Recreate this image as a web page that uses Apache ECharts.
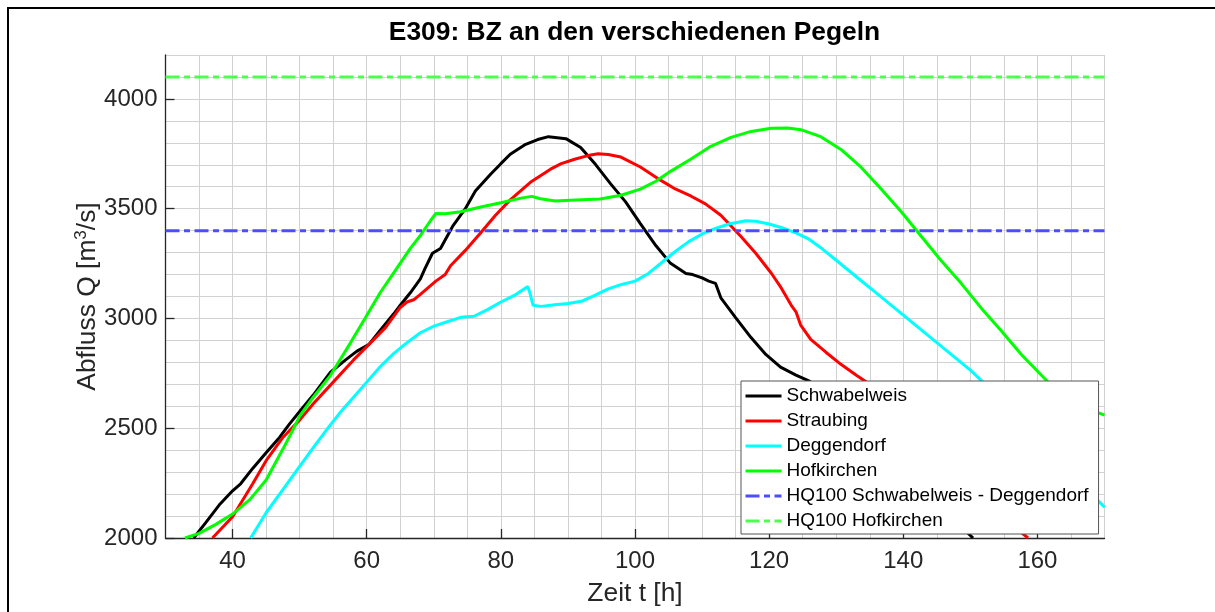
<!DOCTYPE html>
<html><head><meta charset="utf-8">
<script src="https://cdn.jsdelivr.net/npm/echarts@6/dist/echarts.min.js"></script>
<style>html,body{margin:0;padding:0;background:#fff}#c{width:1215px;height:612px}</style>
</head><body><div id="c"></div>
<script>
// ---- data ----
const tSchwabelweis = [34.2,36,38,40,41.2,43,45,47,48.5,50,52,54.6,56.8,58.5,60.3,62,64,65,66.5,68,68.7,69.8,71,72.8,74.7,76.2,78.5,80,81.4,83.7,85.5,87.1,89.7,91.9,94.1,96.4,98.6,100.8,103.1,105.3,107.6,108.6,110,111,112,112.8,115,117.3,119.5,121.7,124,126,130,135,140,145,149,150.4];
const qSchwabelweis = [2000,2070,2150,2215,2247,2317,2388,2458,2520,2576,2650,2755,2810,2850,2881,2945,3020,3060,3117,3180,3228,3297,3319,3419,3500,3580,3658,3705,3748,3793,3815,3828,3819,3779,3702,3612,3531,3432,3332,3251,3205,3200,3185,3170,3160,3094,3004,2913,2836,2778,2742,2715,2600,2450,2310,2170,2040,2000];

const tStraubing = [37.0,40,43,45,47.5,50,52,55,58,60.3,62.8,65,66,67,68,70.3,71.7,72.5,74.7,77,79.2,81.4,84.4,87.4,89,91,93.4,94.5,96,97.9,100.8,103.8,106,108.3,110.5,112.8,115.8,118,120.3,121.8,123.3,124,124.7,126.2,128.5,130.7,133,136,140,145,150,155,156.8,158.6];
const qStraubing = [2000,2097,2247,2352,2458,2537,2610,2710,2810,2881,2958,3050,3075,3085,3110,3170,3200,3240,3310,3390,3470,3540,3620,3680,3705,3725,3745,3750,3747,3735,3690,3630,3590,3558,3522,3470,3373,3297,3207,3139,3060,3030,2970,2905,2845,2791,2741,2680,2596,2430,2265,2100,2045,2000];

const tDeggendorf = [42.7,45,47.5,50,52,54.2,56,58,60,62,64,66,68,70,72,74,76,78,80,82,84,84.3,84.8,86,88,90,92,94,96,98,100,102,104,106,108,110,112,114,116.5,118,120,122,124,126,128,130,132,134,136,138,140,142,144,146,148,150,155,160,165,170];
const qDeggendorf = [2000,2115,2220,2326,2410,2500,2570,2640,2710,2780,2840,2890,2935,2965,2985,3005,3010,3040,3075,3105,3145,3120,3060,3055,3062,3068,3078,3105,3135,3155,3170,3205,3255,3305,3350,3385,3410,3430,3445,3443,3430,3412,3390,3360,3315,3265,3215,3165,3115,3065,3015,2965,2915,2865,2815,2765,2620,2460,2300,2140];

const tHofkirchen = [32.9,35,37.5,40,42.6,45,47.5,49,50,52,54.6,57.6,59.8,62,64.3,66.5,68,69.5,70.3,71.7,74,77,80,83,84.6,85.9,88.1,91.1,94.8,97.9,100.8,103.1,105.3,108.3,111.3,114.3,117.3,120.3,122.8,124.7,127.7,130.7,133.7,136.7,139.7,142.7,145.6,148.6,151.6,154.6,157.6,160.6,163.5,166.5,170];
const qHofkirchen = [2000,2021,2062,2109,2176,2264,2405,2493,2555,2640,2741,2890,3003,3117,3220,3319,3378,3445,3478,3477,3486,3508,3527,3548,3556,3545,3535,3540,3544,3561,3589,3625,3670,3725,3784,3825,3852,3866,3868,3860,3828,3770,3689,3590,3486,3373,3265,3161,3048,2944,2836,2741,2650,2600,2560];

const hq100Schwabelweis = 3400;
const hq100Hofkirchen = 4100;
const xRange = [30, 170];
const yRange = [2000, 4200];
const xTickLabels = [40,60,80,100,120,140,160];
const yTickLabels = [2000,2500,3000,3500,4000];
const seriesNames = ['Schwabelweis','Straubing','Deggendorf','Hofkirchen','HQ100 Schwabelweis - Deggendorf','HQ100 Hofkirchen'];

// ---- chart ----
const FONT = '"Liberation Sans", Arial, sans-serif';
const AX = '#262626';
const GRID = '#d2d2d2';
function pairs(t, q) { return t.map((v, i) => [v, q[i]]); }
const chart = echarts.init(document.getElementById('c'), null, {renderer: 'canvas'});
const solid = (name, t, q, color) => ({
  name, type: 'line', xAxisIndex: 0, yAxisIndex: 0, data: pairs(t, q), showSymbol: false, symbol: 'none',
  smooth: false, lineStyle: {color, width: 3}, itemStyle: {color}, z: 3
});
const hq = (name, v, color) => ({
  name, type: 'line', xAxisIndex: 0, yAxisIndex: 0, data: [[xRange[0], v], [xRange[1], v]], showSymbol: false, symbol: 'none',
  lineStyle: {color, width: 3, type: [14, 4.5, 6, 4.5]}, itemStyle: {color}, z: 3
});
chart.setOption({
  animation: false,
  backgroundColor: '#fff',
  title: {
    text: 'E309: BZ an den verschiedenen Pegeln', left: 634.5, textAlign: 'center', top: 20, padding: 0,
    textStyle: {fontFamily: FONT, fontSize: 26.4, fontWeight: 'bold', color: '#000'}
  },
  grid: {left: 165.5, right: 110.5, top: 55, bottom: 69.7, containLabel: false},
  xAxis: [
    {type: 'value', min: xRange[0], max: xRange[1], interval: 5,
      axisLine: {show: true, onZero: false, lineStyle: {color: AX, width: 1.3}}, axisTick: {show: false}, axisLabel: {show: false},
      splitLine: {show: true, lineStyle: {color: GRID, width: 1}}},
    {type: 'value', min: xRange[0], max: xRange[1], interval: 5, position: 'bottom',
      axisLine: {show: false, onZero: false},
      axisTick: {show: true, inside: true, length: 9, customValues: xTickLabels, lineStyle: {color: AX, width: 1.3}},
      axisLabel: {customValues: xTickLabels, margin: 11, fontSize: 24, color: AX, fontFamily: FONT, formatter: v => String(v)},
      splitLine: {show: false},
      name: 'Zeit t [h]', nameLocation: 'middle', nameGap: 43, nameMoveOverlap: false,
      nameTextStyle: {fontSize: 26.4, color: AX, fontFamily: FONT}}
  ],
  yAxis: [
    {type: 'value', min: yRange[0], max: yRange[1], interval: 100,
      axisLine: {show: true, onZero: false, lineStyle: {color: AX, width: 1.3}}, axisTick: {show: false}, axisLabel: {show: false},
      splitLine: {show: true, lineStyle: {color: GRID, width: 1}}},
    {type: 'value', min: yRange[0], max: yRange[1], interval: 100, position: 'left',
      axisLine: {show: false, onZero: false},
      axisTick: {show: true, inside: true, length: 9, customValues: yTickLabels, lineStyle: {color: AX, width: 1.3}},
      axisLabel: {customValues: yTickLabels, margin: 8, fontSize: 24, color: AX, fontFamily: FONT, formatter: v => String(v)},
      splitLine: {show: false},
      name: 'Abfluss Q [m{s|3}/s]', nameLocation: 'middle', nameGap: 63, nameMoveOverlap: false,
      nameTextStyle: {fontSize: 26.4, color: AX, fontFamily: FONT,
        rich: {s: {fontSize: 17, color: AX, fontFamily: FONT, verticalAlign: 'top', lineHeight: 30}}}}
  ],
  legend: {
    orient: 'vertical', left: 741, top: 381, itemWidth: 36, itemHeight: 14, itemGap: 5,
    padding: [5, 10, 3, 3], backgroundColor: '#fff', borderColor: '#555', borderWidth: 1, borderRadius: 0,
    itemStyle: {opacity: 0, borderWidth: 0},
    lineStyle: {width: 3},
    textStyle: {fontFamily: FONT, fontSize: 19, color: '#000', lineHeight: 20},
    data: seriesNames, selectedMode: false
  },
  series: [
    solid(seriesNames[0], tSchwabelweis, qSchwabelweis, '#000000'),
    solid(seriesNames[1], tStraubing, qStraubing, '#ff0000'),
    solid(seriesNames[2], tDeggendorf, qDeggendorf, '#00ffff'),
    solid(seriesNames[3], tHofkirchen, qHofkirchen, '#00ff00'),
    hq(seriesNames[4], hq100Schwabelweis, '#4d4dff'),
    hq(seriesNames[5], hq100Hofkirchen, '#4dff4d')
  ],
  graphic: [{type: 'polyline', shape: {points: [[8, 612], [8, 8], [1215, 8]]}, style: {stroke: '#000', lineWidth: 2, fill: null}, z: 100}]
});
</script></body></html>
